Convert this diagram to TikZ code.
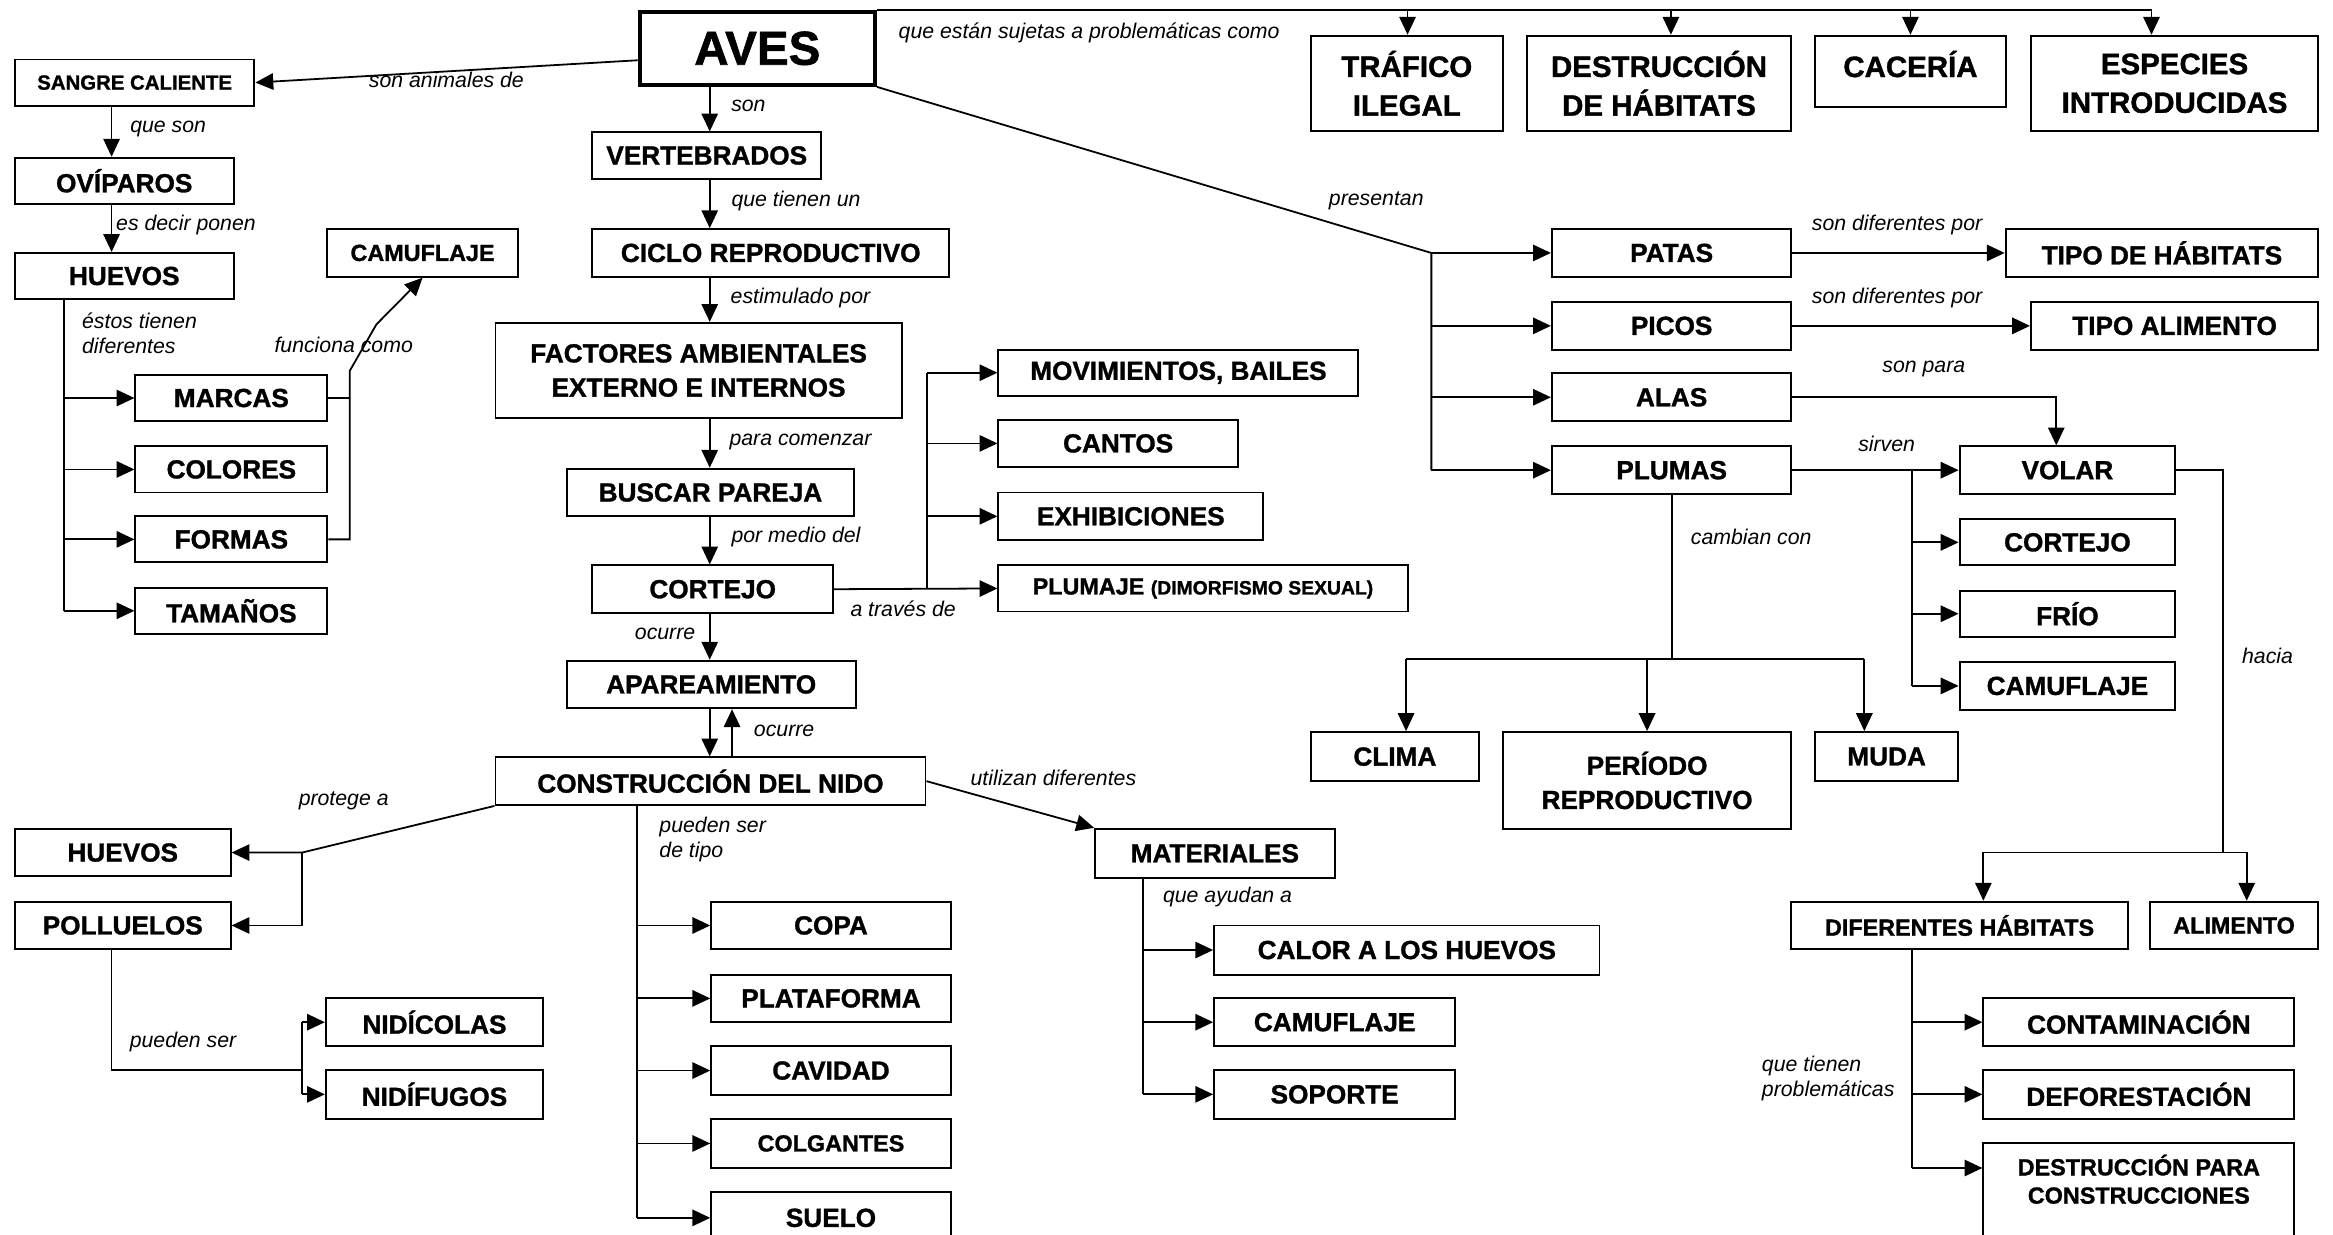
\documentclass[tikz,border=0pt]{standalone}
\usepackage{fontspec}
\setmainfont{Liberation Sans}[BoldFeatures={FakeBold=1.2}]
\usetikzlibrary{arrows.meta}
\newcommand{\mybox}[7][]{%
  \pgfmathsetmacro{\bxcx}{(#3+#5)/2}%
  \pgfmathsetmacro{\bxcy}{(#4+#6)/2}%
  \pgfmathsetmacro{\bxw}{#5-#3}%
  \pgfmathsetmacro{\bxh}{#6-#4}%
  \node[box,#1,minimum width=\bxw pt,minimum height=\bxh pt] (#2) at (\bxcx,\bxcy) {#7};%
}
\begin{document}
\begin{tikzpicture}[x=1pt,y=-1pt,
  box/.style={draw,line width=1.3pt,inner sep=1pt,align=center,font=\fontsize{17.6}{23}\selectfont\bfseries},
  sm/.style={font=\fontsize{15.7}{19}\selectfont\bfseries},
  xs/.style={font=\fontsize{13.7}{16}\selectfont\bfseries},
  tp/.style={font=\fontsize{19.8}{26}\selectfont\bfseries},
  lab/.style={font=\fontsize{14.3}{17}\selectfont\itshape,inner sep=0pt,align=left},
  conn/.style={line width=1.2pt},
  arr/.style={conn,-{Triangle[length=12pt,width=11pt]}}]
\fill[white] (0,0) rectangle (1568,830);
\useasboundingbox (0,0) rectangle (1568,830);

% ---------- boxes ----------
\mybox[line width=2.8pt,font=\fontsize{32}{36}\selectfont\bfseries]{AVES}{430}{8}{588}{57}{AVES}
\mybox[xs]{SANGRE}{10}{40}{171}{71}{SANGRE CALIENTE}
\mybox{OVIP}{10}{106}{157}{137}{OVÍPAROS}
\mybox{HUEVOSa}{10}{170}{157}{201}{HUEVOS}
\mybox[sm]{CAMUa}{220}{154}{348}{186}{CAMUFLAJE}
\mybox{MARCAS}{91}{252}{220}{283}{MARCAS}
\mybox{COLORES}{91}{300}{220}{331}{COLORES}
\mybox{FORMAS}{91}{347}{220}{378}{FORMAS}
\mybox{TAMANOS}{91}{395}{220}{426}{TAMAÑOS}

\mybox{VERT}{398}{89}{552}{120}{VERTEBRADOS}
\mybox{CICLO}{398}{154}{638}{186}{CICLO REPRODUCTIVO}
\mybox{FACT}{333}{217}{606}{281}{FACTORES AMBIENTALES\\EXTERNO E INTERNOS}
\mybox{BUSCAR}{381}{315}{574}{347}{BUSCAR PAREJA}
\mybox{CORTa}{398}{380}{560}{412}{CORTEJO}
\mybox{MOV}{671}{235}{913}{266}{MOVIMIENTOS, BAILES}
\mybox{CANTOS}{671}{282}{832}{314}{CANTOS}
\mybox{EXHIB}{671}{331}{849}{363}{EXHIBICIONES}
\mybox[sm]{PLUMAJE}{671}{380}{946}{411}{PLUMAJE {\fontsize{13}{15}\selectfont (DIMORFISMO SEXUAL)}}
\mybox{APAR}{381}{444}{575}{476}{APAREAMIENTO}
\mybox{CONST}{333}{509}{622}{541}{CONSTRUCCIÓN DEL NIDO}

\mybox{HUEVOSb}{10}{557}{155}{589}{HUEVOS}
\mybox{POLL}{10}{606}{155}{638}{POLLUELOS}
\mybox{NIDIC}{219}{671}{365}{703}{NIDÍCOLAS}
\mybox{NIDIF}{219}{719}{365}{752}{NIDÍFUGOS}
\mybox{COPA}{478}{606}{639}{638}{COPA}
\mybox{PLAT}{478}{655}{639}{687}{PLATAFORMA}
\mybox{CAV}{478}{703}{639}{736}{CAVIDAD}
\mybox[sm]{COLG}{478}{752}{639}{785}{COLGANTES}
\mybox{SUELO}{478}{801}{639}{836}{SUELO}
\mybox{MAT}{736}{557}{897}{590}{MATERIALES}
\mybox{CALOR}{816}{622}{1075}{655}{CALOR A LOS HUEVOS}
\mybox{CAMUb}{816}{671}{978}{703}{CAMUFLAJE}
\mybox{SOPORTE}{816}{719}{978}{752}{SOPORTE}

\mybox[tp]{TRAF}{881}{24}{1010}{88}{TRÁFICO\\ILEGAL}
\mybox[tp]{DEST}{1026}{24}{1204}{88}{DESTRUCCIÓN\\DE HÁBITATS}
\mybox[tp]{CAZA}{1220}{24}{1348}{72}{CACERÍA\\[-16pt]\mbox{}}
\mybox[tp]{ESP}{1365}{24}{1558}{88}{ESPECIES\\INTRODUCIDAS}

\mybox{PATAS}{1043}{154}{1204}{186}{PATAS}
\mybox{PICOS}{1043}{203}{1204}{235}{PICOS}
\mybox{ALAS}{1043}{251}{1204}{283}{ALAS}
\mybox{PLUMAS}{1043}{300}{1204}{332}{PLUMAS}
\mybox{TIPOH}{1348}{154}{1558}{186}{TIPO DE HÁBITATS}
\mybox{TIPOA}{1365}{203}{1558}{235}{TIPO ALIMENTO}
\mybox{VOLAR}{1317}{300}{1462}{332}{VOLAR}
\mybox{CORTb}{1317}{349}{1462}{380}{CORTEJO}
\mybox{FRIO}{1317}{397}{1462}{428}{FRÍO}
\mybox{CAMUc}{1317}{445}{1462}{477}{CAMUFLAJE}
\mybox{CLIMA}{881}{492}{994}{525}{CLIMA}
\mybox{PERIODO}{1010}{492}{1204}{557}{PERÍODO\\REPRODUCTIVO}
\mybox{MUDA}{1220}{492}{1316}{525}{MUDA}
\mybox[sm]{DIFH}{1204}{606}{1430}{638}{DIFERENTES HÁBITATS}
\mybox[sm]{ALIM}{1445}{606}{1558}{638}{ALIMENTO}
\mybox{CONTAM}{1333}{671}{1542}{703}{CONTAMINACIÓN}
\mybox{DEFOR}{1333}{719}{1542}{752}{DEFORESTACIÓN}
\mybox[sm]{DPC}{1333}{768}{1542}{836}{DESTRUCCIÓN PARA\\CONSTRUCCIONES\\\mbox{}}

% ---------- junction coordinates ----------
\coordinate (xA) at (75,0);
\coordinate (xB) at (43,0);
\coordinate (xC) at (235,0);
\coordinate (kC) at (253,218);
\coordinate (xM) at (477,0);
\coordinate (xMb) at (492,0);
\coordinate (xD) at (623,0);
\coordinate (xK) at (203,0);
\coordinate (yN) at (0,719);
\coordinate (xL) at (428,0);
\coordinate (xN) at (768,0);
\coordinate (xT1) at (946,0);
\coordinate (xT2) at (1123,0);
\coordinate (xT3) at (1284,0);
\coordinate (xT4) at (1446,0);
\coordinate (xE) at (962,0);
\coordinate (xF) at (1285,0);
\coordinate (xG) at (1382,0);
\coordinate (xH) at (1494,0);
\coordinate (yH) at (0,573);
\coordinate (xP1) at (1333,0);
\coordinate (xP2) at (1510,0);
\coordinate (yQ) at (0,443);
\coordinate (xJ1) at (945,0);
\coordinate (xJ2) at (1107,0);
\coordinate (xJ3) at (1253,0);
\coordinate (yDPC) at (0,785);

% ---------- connectors: left ----------
\draw[arr] ([yshift=-8pt]AVES.west) -- (SANGRE.east);
\draw[arr] (SANGRE.south -| xA) -- (OVIP.north -| xA);
\draw[arr] (OVIP.south -| xA) -- (HUEVOSa.north -| xA);
\draw[conn] (HUEVOSa.south -| xB) -- (TAMANOS.west -| xB);
\foreach \n in {MARCAS,COLORES,FORMAS,TAMANOS}
  \draw[arr] (\n.west -| xB) -- (\n.west);
\draw[conn] (MARCAS.east) -- (MARCAS.east -| xC);
\draw[arr] (FORMAS.east) -- (FORMAS.east -| xC) -- ([yshift=2pt]xC |- MARCAS.north) -- (kC) -- (CAMUa.south);

% ---------- connectors: centre ----------
\draw[arr] (AVES.south -| xM) -- (VERT.north -| xM);
\draw[arr] (VERT.south -| xM) -- (CICLO.north -| xM);
\draw[arr] (CICLO.south -| xM) -- (FACT.north -| xM);
\draw[arr] (FACT.south -| xM) -- (BUSCAR.north -| xM);
\draw[arr] (BUSCAR.south -| xM) -- (CORTa.north -| xM);
\draw[arr] (CORTa.south -| xM) -- (APAR.north -| xM);
\draw[arr] (APAR.south -| xM) -- (CONST.north -| xM);
\draw[arr] (CONST.north -| xMb) -- (APAR.south -| xMb);
\draw[arr] (CORTa.east) -- (PLUMAJE.west);
\draw[conn] (CORTa.east -| xD) -- (MOV.west -| xD);
\foreach \n in {MOV,CANTOS,EXHIB}
  \draw[arr] (\n.west -| xD) -- (\n.west);

\draw[arr] (CONST.south west) -- (HUEVOSb.east -| xK) -- (HUEVOSb.east);
\draw[arr] (HUEVOSb.east -| xK) -- (POLL.east -| xK) -- (POLL.east);
\draw[conn] (POLL.south -| xA) -- (xA |- yN) -- (xK |- yN);
\draw[conn] (NIDIC.west -| xK) -- (NIDIF.west -| xK);
\draw[arr] (NIDIC.west -| xK) -- (NIDIC.west);
\draw[arr] (NIDIF.west -| xK) -- (NIDIF.west);

\draw[conn] (CONST.south -| xL) -- (SUELO.west -| xL);
\foreach \n in {COPA,PLAT,CAV,COLG,SUELO}
  \draw[arr] (\n.west -| xL) -- (\n.west);
\draw[arr] (CONST.east) -- (MAT.north west);
\draw[conn] (MAT.south -| xN) -- (SOPORTE.west -| xN);
\foreach \n in {CALOR,CAMUb,SOPORTE}
  \draw[arr] (\n.west -| xN) -- (\n.west);

% ---------- connectors: right ----------
\draw[conn] (AVES.north east) -- (xT4 |- AVES.north east);
\foreach \c/\n in {xT1/TRAF,xT2/DEST,xT3/CAZA,xT4/ESP}
  \draw[arr] (\c |- AVES.north) -- (\c |- \n.north);

\draw[conn] (AVES.south east) -- (PATAS.west -| xE) -- (PLUMAS.west -| xE);
\foreach \n in {PATAS,PICOS,ALAS,PLUMAS}
  \draw[arr] (\n.west -| xE) -- (\n.west);
\draw[arr] (PATAS.east) -- (TIPOH.west);
\draw[arr] (PICOS.east) -- (TIPOA.west);
\draw[arr] (ALAS.east) -- (ALAS.east -| xG) -- (VOLAR.north -| xG);
\draw[arr] (PLUMAS.east) -- (VOLAR.west);
\draw[conn] (PLUMAS.east -| xF) -- (CAMUc.west -| xF);
\foreach \n in {CORTb,FRIO,CAMUc}
  \draw[arr] (\n.west -| xF) -- (\n.west);

\draw[conn] (VOLAR.east) -- (VOLAR.east -| xH) -- (xH |- yH);
\draw[arr] (xH |- yH) -- (xP2 |- yH) -- (xP2 |- ALIM.north);
\draw[arr] (xH |- yH) -- (xP1 |- yH) -- (xP1 |- DIFH.north);

\draw[conn] (DIFH.south -| xF) -- (xF |- yDPC);
\draw[arr] (xF |- CONTAM.west) -- (CONTAM.west);
\draw[arr] (xF |- DEFOR.west) -- (DEFOR.west);
\draw[arr] (xF |- yDPC) -- (DPC.west |- yDPC);

\draw[conn] (PLUMAS.south) -- (PLUMAS.south |- yQ);
\draw[conn] (xJ1 |- yQ) -- (xJ3 |- yQ);
\draw[arr] (xJ1 |- yQ) -- (xJ1 |- CLIMA.north);
\draw[arr] (xJ2 |- yQ) -- (xJ2 |- PERIODO.north);
\draw[arr] (xJ3 |- yQ) -- (xJ3 |- MUDA.north);

% ---------- labels ----------
\node[lab] (l1) at (300,54) {son animales de};
\node[lab] (l2) at (113,87) {que son};
\node[lab] (l3) at (125,151) {es decir ponen};
\node[lab,anchor=west] (l4) at (55,224) {éstos tienen\\diferentes};
\node[lab] (l5) at (231,232) {funciona como};
\node[lab] (l6) at (503,71) {son};
\node[lab] (l7) at (535,135) {que tienen un};
\node[lab] (l8) at (538,200) {estimulado por};
\node[lab] (l9) at (538,297) {para comenzar};
\node[lab] (l10) at (535,361) {por medio del};
\node[lab] (l11) at (607,409) {a través de};
\node[lab] (l12) at (447,426) {ocurre};
\node[lab] (l13) at (527,491) {ocurre};
\node[lab] (l14) at (231,538) {protege a};
\node[lab,anchor=west] (l15) at (443,564) {pueden ser\\de tipo};
\node[lab] (l16) at (708,523) {utilizan diferentes};
\node[lab] (l17) at (825,603) {que ayudan a};
\node[lab] (l18) at (123,700) {pueden ser};
\node[lab] (l19) at (732,22) {que están sujetas a problemáticas como};
\node[lab] (l20) at (925,135) {presentan};
\node[lab] (l21) at (1275,151) {son diferentes por};
\node[lab] (l22) at (1275,200) {son diferentes por};
\node[lab] (l23) at (1293,248) {son para};
\node[lab] (l24) at (1268,298) {sirven};
\node[lab] (l25) at (1177,361) {cambian con};
\node[lab] (l26) at (1524,441) {hacia};
\node[lab,anchor=west] (l27) at (1184,725) {que tienen\\problemáticas};
\end{tikzpicture}
\end{document}
